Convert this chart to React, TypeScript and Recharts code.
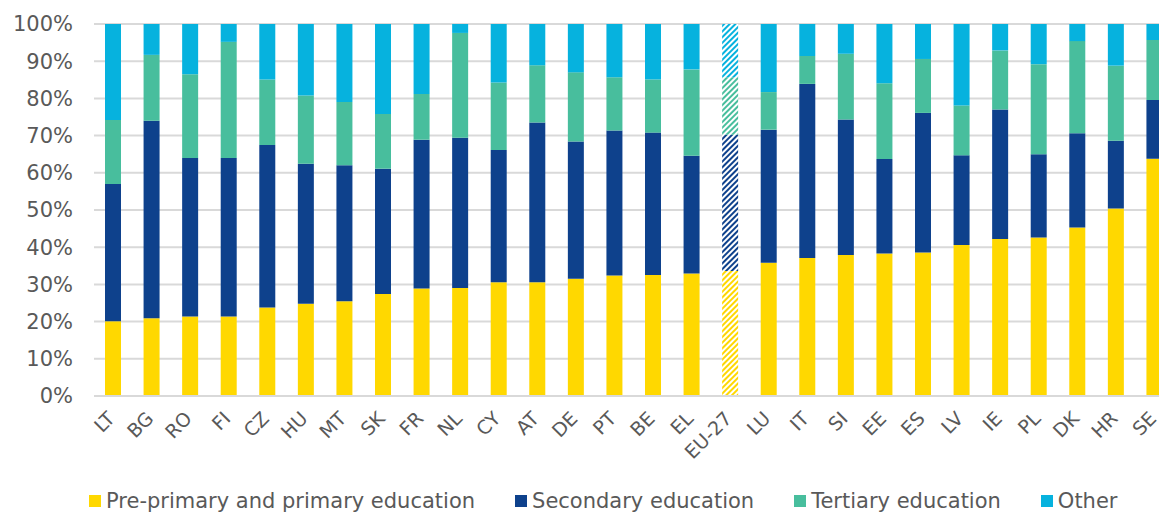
import React from "react";
import { BarChart, Bar, Cell, XAxis, YAxis, CartesianGrid, Legend } from "recharts";

const countries = ["LT", "BG", "RO", "FI", "CZ", "HU", "MT", "SK", "FR", "NL", "CY", "AT", "DE", "PT", "BE", "EL", "EU-27", "LU", "IT", "SI", "EE", "ES", "LV", "IE", "PL", "DK", "HR", "SE"];
const prePrimary = [20.1, 20.9, 21.4, 21.4, 23.8, 24.8, 25.5, 27.4, 28.9, 29.0, 30.6, 30.6, 31.5, 32.4, 32.5, 32.9, 33.6, 35.8, 37.1, 37.9, 38.3, 38.6, 40.6, 42.2, 42.6, 45.3, 50.4, 63.8];
const secondary = [36.9, 53.1, 42.6, 42.6, 43.7, 37.6, 36.5, 33.7, 40.0, 40.4, 35.5, 42.9, 36.9, 39.0, 38.3, 31.7, 36.6, 35.8, 46.8, 36.4, 25.4, 37.5, 24.1, 34.8, 22.4, 25.3, 18.2, 15.8];
const tertiary = [17.2, 17.7, 22.5, 31.2, 17.6, 18.4, 17.0, 14.7, 12.3, 28.2, 18.2, 15.4, 18.6, 14.3, 14.3, 23.2, 15.5, 10.1, 7.5, 17.7, 20.4, 14.5, 13.4, 15.9, 24.2, 24.8, 20.2, 16.1];
const other = [25.8, 8.3, 13.5, 4.8, 14.9, 19.2, 21.0, 24.2, 18.8, 2.4, 15.7, 11.1, 13.0, 14.3, 14.9, 12.2, 14.3, 18.3, 8.6, 8.0, 15.9, 9.4, 21.9, 7.1, 10.8, 4.6, 11.2, 4.3];
const yTicks = [0, 10, 20, 30, 40, 50, 60, 70, 80, 90, 100];

const series = [
  { key: "pre", name: "Pre-primary and primary education", color: "#FFD800" },
  { key: "sec", name: "Secondary education", color: "#0E418C" },
  { key: "ter", name: "Tertiary education", color: "#48BE9D" },
  { key: "oth", name: "Other", color: "#06B2DE" },
];

const data = countries.map((c, i) => ({
  country: c,
  pre: prePrimary[i],
  sec: secondary[i],
  ter: tertiary[i],
  oth: other[i],
}));

const FONT = "'DejaVu Sans', Verdana, sans-serif";
const TEXT = "#595959";

const XTick = (props: any) => {
  const { x, y, payload } = props;
  return (
    <g transform={`translate(${x - 2},${y + 11})`}>
      <text x={0} y={0} dy="0.35em" textAnchor="end" transform="rotate(-45)" fill={TEXT} fontSize={19} fontFamily={FONT}>
        {payload.value}
      </text>
    </g>
  );
};

const renderLegend = () => (
  <div style={{ display: "flex", height: 24, alignItems: "center", paddingLeft: 89, fontFamily: FONT, fontSize: 21, lineHeight: "24px", color: TEXT, whiteSpace: "nowrap" }}>
    {series.map((s) => (
      <div key={s.key} style={{ display: "flex", alignItems: "center", marginRight: 40 }}>
        <span style={{ display: "inline-block", width: 12, height: 12, background: s.color, marginRight: 5 }} />
        <span>{s.name}</span>
      </div>
    ))}
  </div>
);

export default function App() {
  return (
    <div style={{ position: "absolute", left: 0, top: 0, width: 1159, height: 513, overflow: "hidden", background: "#fff" }}>
      <BarChart width={1174} height={513} data={data} margin={{ top: 24, right: 0, left: 0, bottom: 0 }} barSize={16}>
        <defs>
          {series.map((s) => (
            <pattern key={s.key} id={`hatch-${s.key}`} width="4" height="4" patternUnits="userSpaceOnUse" patternTransform="rotate(45)">
              <rect width="4" height="4" fill="#ffffff" />
              <rect width="2" height="4" fill={s.color} />
            </pattern>
          ))}
        </defs>
        <CartesianGrid vertical={false} stroke="#d9d9d9" strokeWidth={2} />
        <XAxis dataKey="country" interval={0} tick={<XTick />} tickLine={false} axisLine={{ stroke: "#d9d9d9", strokeWidth: 2 }} height={93} />
        <YAxis domain={[0, 100]} ticks={yTicks} tickFormatter={(v) => `${v}%`} width={94} axisLine={false} tickLine={false} tickMargin={15}
          tick={{ fill: TEXT, fontSize: 21, fontFamily: FONT }} />
        <Legend verticalAlign="bottom" content={renderLegend} wrapperStyle={{ left: 0, width: 1174 }} />
        {series.map((s) => (
          <Bar key={s.key} dataKey={s.key} name={s.name} stackId="a" fill={s.color} isAnimationActive={false}>
            {data.map((d, i) => (
              <Cell key={i} fill={d.country === "EU-27" ? `url(#hatch-${s.key})` : s.color} />
            ))}
          </Bar>
        ))}
      </BarChart>
    </div>
  );
}
